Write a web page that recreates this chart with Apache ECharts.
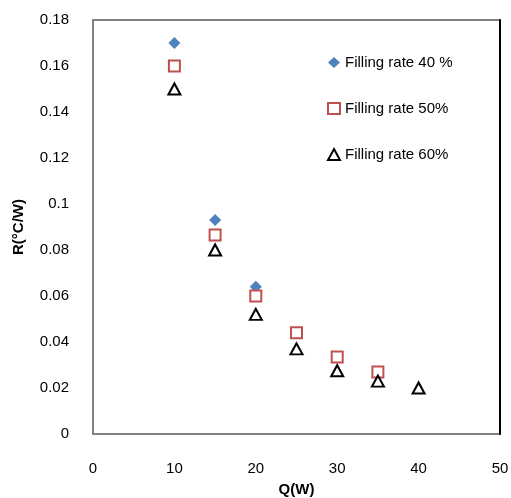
<!DOCTYPE html>
<html>
<head>
<meta charset="utf-8">
<script src="https://cdn.jsdelivr.net/npm/echarts@6/dist/echarts.min.js"></script>
<style>
  html, body { margin: 0; padding: 0; background: #fff; }
  #chart { width: 511px; height: 498px; }
</style>
</head>
<body>
<div id="chart"></div>
<script>
// Q(W) values and thermal resistance R for each filling rate
var q40 = [10, 15, 20]
var r40 = [0.17, 0.093, 0.064]
var q50 = [10, 15, 20, 25, 30, 35]
var r50 = [0.16, 0.0865, 0.06, 0.044, 0.0335, 0.027]
var q60 = [10, 15, 20, 25, 30, 35, 40]
var r60 = [0.15, 0.08, 0.052, 0.037, 0.0275, 0.023, 0.02]
var names = ['Filling rate 40 %', 'Filling rate 50%', 'Filling rate 60%']

function pairs(xs, ys) {
    return xs.map(function (x, i) { return [x, ys[i]] })
}

var font = 'Liberation Sans, Arial, sans-serif'
var chart = echarts.init(document.getElementById('chart'))

var option = {
    animation: false,
    backgroundColor: '#fff',
    grid: {
        left: 93, right: 11, top: 20, bottom: 64,
        outerBoundsMode: 'none',
        show: true, borderColor: '#808080', borderWidth: 2
    },
    legend: {
        orient: 'vertical',
        left: 322, top: 50,
        itemGap: 31,
        itemWidth: 12, itemHeight: 11,
        textStyle: { fontFamily: font, fontSize: 15, color: '#000' },
        data: names
    },
    xAxis: {
        type: 'value', min: 0, max: 50, interval: 10,
        name: 'Q(W)', nameLocation: 'middle', nameGap: 48,
        nameTextStyle: { fontFamily: font, fontSize: 15, fontWeight: 'bold', color: '#000' },
        axisLine: { show: false },
        axisTick: { show: false },
        splitLine: { show: false },
        axisLabel: { fontFamily: font, fontSize: 15, color: '#000', margin: 27 }
    },
    yAxis: [{
        type: 'value', min: 0, max: 0.18, interval: 0.02,
        name: 'R(°C/W)', nameLocation: 'middle', nameGap: 67,
        nameTextStyle: { fontFamily: font, fontSize: 15, fontWeight: 'bold', color: '#000' },
        axisLine: { show: false },
        axisTick: { show: false },
        splitLine: { show: false },
        axisLabel: {
            fontFamily: font, fontSize: 15, color: '#000', margin: 24,
            formatter: function (v) { return String(+v.toFixed(2)) }
        }
    }, {
        type: 'value', min: 0, max: 0.18, interval: 0.02, position: 'right',
        axisLine: { show: true, lineStyle: { color: '#000', width: 2 } },
        axisTick: { show: false }, axisLabel: { show: false }, splitLine: { show: false }
    }],
    series: [{
        name: names[0], type: 'scatter', symbol: 'diamond', symbolSize: 12,
        itemStyle: { color: '#4F81BD', opacity: 1 },
        data: pairs(q40, r40)
    }, {
        name: names[1], type: 'scatter', symbol: 'rect', symbolSize: 11,
        itemStyle: { color: '#fff', borderColor: '#C0504D', borderWidth: 2, opacity: 1 },
        data: pairs(q50, r50)
    }, {
        name: names[2], type: 'scatter', symbol: 'triangle', symbolSize: [12, 11],
        itemStyle: { color: '#fff', borderColor: '#000', borderWidth: 2, opacity: 1 },
        data: pairs(q60, r60)
    }]
}

chart.setOption(option)
</script>
</body>
</html>
